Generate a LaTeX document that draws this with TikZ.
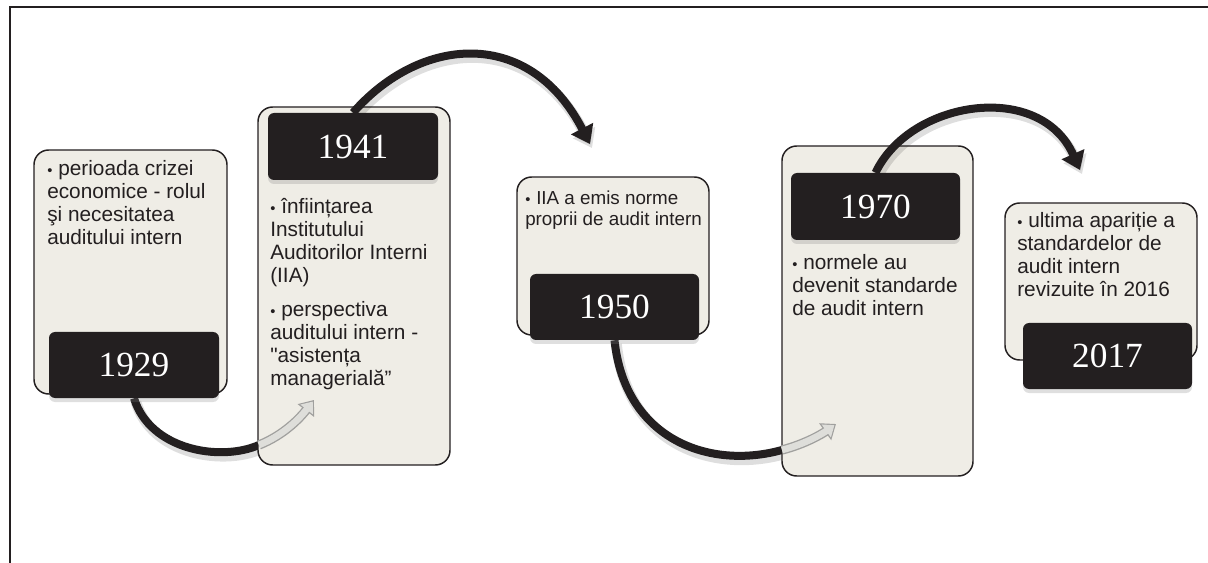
\documentclass[tikz,border=0pt]{standalone}
\usepackage{fontspec}
\setmainfont{Liberation Sans}[Ligatures=TeXOff]
\newfontfamily\yearfont{Liberation Serif}
\usetikzlibrary{arrows.meta,shadows}
\definecolor{ink}{RGB}{35,31,32}
\definecolor{boxfill}{RGB}{239,237,230}
\definecolor{arrowfill}{RGB}{222,222,218}
\definecolor{arrowedge}{RGB}{160,160,158}
\pgfdeclarelayer{arcsbottom}
\pgfdeclarelayer{lights}
\pgfdeclarelayer{arcstop}
\pgfdeclarelayer{front}
\pgfsetlayers{arcsbottom,lights,arcstop,main,front}
\newcommand\bulletchar{{\fontsize{11pt}{11pt}\selectfont\raisebox{0.6pt}{•}}}
\newcommand\bitem[1]{\par\noindent\hangindent=8.25pt\hangafter=1\makebox[8.25pt][l]{\bulletchar}#1}
\tikzset{
  lightbox/.style={draw=ink, line width=1.1pt, fill=boxfill, rounded corners=11pt, inner sep=0pt},
  yearbox/.style={fill=ink, rounded corners=4.5pt, inner sep=0pt, text=white,
    font=\yearfont\fontsize{26.5pt}{26.5pt}\selectfont,
    drop shadow={shadow xshift=0pt, shadow yshift=-3pt, opacity=0.25}},
  bodytext/.style={inner sep=0pt, anchor=base west, text=ink, font=\fontsize{15.6pt}{17.25pt}\selectfont},
  arcline/.style={draw=ink, line width=6pt},
  arcshadow/.style={draw=black, opacity=0.13, line width=8pt, transform canvas={shift={(2,4)}}},
  bigtip/.style={-{Triangle[length=13pt,width=18pt]}},
  grayouter/.style={draw=arrowedge, line width=7pt, -{Triangle[length=10pt,width=15pt]}},
  grayinner/.style={draw=arrowfill, line width=5pt, -{Triangle[length=7.5pt,width=11.5pt]}, shorten >=1.5pt}
}
\begin{document}
\begin{tikzpicture}[x=0.75pt,y=-0.75pt]
\useasboundingbox (0,0) rectangle (1208,563);
\draw[ink, line width=1.5pt] (10,563) -- (10,7) -- (1208,7);

% light boxes
\begin{pgfonlayer}{lights}
\node[lightbox, minimum width=144.75pt, minimum height=183pt] (l1) at (130.5,272) {};
\node[lightbox, minimum width=144pt, minimum height=268.5pt] (l2) at (354,286) {};
\node[lightbox, minimum width=144pt, minimum height=118.5pt] (l3) at (613,256) {};
\node[lightbox, minimum width=143.25pt, minimum height=247.5pt] (l4) at (877.5,311) {};
\node[lightbox, minimum width=144pt, minimum height=117.75pt] (l5) at (1101,281.5) {};
\end{pgfonlayer}

% year boxes
\node[yearbox, minimum width=127.5pt, minimum height=49.5pt] (y1) at (134,365) {1929};
\node[yearbox, minimum width=127.5pt, minimum height=50.25pt] (y2) at (353,146.5) {1941};
\node[yearbox, minimum width=126.75pt, minimum height=49.5pt] (y3) at (614.5,307) {1950};
\node[yearbox, minimum width=126.75pt, minimum height=50.25pt] (y4) at (875.5,206.5) {1970};
\node[yearbox, minimum width=126.75pt, minimum height=49.5pt] (y5) at (1107.5,356) {2017};

% connector points
\coordinate (a1end) at (259,445);
\coordinate (a1tip) at (314,400);
\coordinate (a2tip) at (590,144);
\coordinate (a3end) at (782,450);
\coordinate (a3tip) at (836,424);
\coordinate (a4tip) at (1080,170);

% bottom arcs (behind boxes)
\begin{pgfonlayer}{arcsbottom}
\draw[arcshadow] (y1.south) .. controls (150,450) and (220,462) .. (a1end);
\draw[arcline] (y1.south) .. controls (150,450) and (220,462) .. (a1end);
\draw[arcshadow] (y3.south) .. controls (625,440) and (710,470) .. (a3end);
\draw[arcline] (y3.south) .. controls (625,440) and (710,470) .. (a3end);
\end{pgfonlayer}

% top arcs
\begin{pgfonlayer}{arcstop}
\draw[arcshadow, bigtip] (y2.north) .. controls (420,36) and (529,26) .. (a2tip);
\draw[arcline, bigtip] (y2.north) .. controls (420,36) and (529,26) .. (a2tip);
\draw[arcshadow, bigtip] (y4.north) .. controls (910,100) and (1040,80) .. (a4tip);
\draw[arcline, bigtip] (y4.north) .. controls (910,100) and (1040,80) .. (a4tip);
\end{pgfonlayer}

\begin{pgfonlayer}{front}
% gray continuation arrows
\draw[grayouter] (a1end) .. controls (284,435) and (300,418) .. (a1tip);
\draw[grayinner] (a1end) .. controls (284,435) and (300,418) .. (a1tip);
\draw[grayouter] (a3end) .. controls (805,444) and (822,434) .. (a3tip);
\draw[grayinner] (a3end) .. controls (805,444) and (822,434) .. (a3tip);

% texts
\node[bodytext] (t1) at (47,176) {\parbox[t]{170pt}{\raggedright
  \bitem{perioada crizei\\economice - rolul\\şi necesitatea\\auditului intern}}};
\node[bodytext] (t2) at (270,214) {\parbox[t]{170pt}{\raggedright
  \bitem{înființarea\\Institutului\\Auditorilor Interni\\(IIA)}\par\vspace{8.25pt}%
  \bitem{perspectiva\\auditului intern -\\"asistența\\managerială”}}};
\node[bodytext, font=\fontsize{14.1pt}{15.75pt}\selectfont] (t3) at (525,205) {\parbox[t]{150pt}{\raggedright
  \bitem{IIA a emis norme\\proprii de audit intern}}};
\node[bodytext] (t4) at (792,270) {\parbox[t]{170pt}{\raggedright
  \bitem{normele au\\devenit standarde\\de audit intern}}};
\node[bodytext] (t5) at (1017,228) {\parbox[t]{170pt}{\raggedright
  \bitem{ultima apariție a\\standardelor de\\audit intern\\revizuite în 2016}}};
\end{pgfonlayer}
\end{tikzpicture}
\end{document}
